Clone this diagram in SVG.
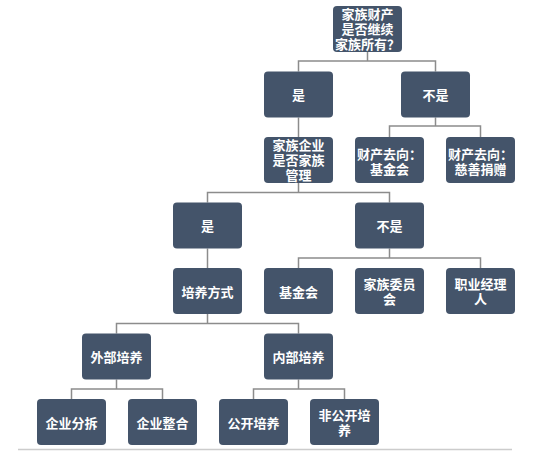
<svg xmlns="http://www.w3.org/2000/svg" width="550" height="461" viewBox="0 0 550 461">
<style>
.box{fill:#44546a;}
.t{fill:#ffffff;font-family:"Noto Sans CJK SC","Noto Sans CJK TC",sans-serif;font-size:13px;font-weight:bold;text-anchor:middle;dominant-baseline:central;}
.c{fill:none;stroke:#8c8c8c;stroke-width:1.5;}
</style>
<rect width="550" height="461" fill="#ffffff"/>
<g id="connectors" class="c">
<path d="M367.5 52V61M298.5 71.5V61H435.5V71.5"/>
<path d="M298.5 117.5V137"/>
<path d="M435.5 117.5V126M389.5 137V126H480.5V137"/>
<path d="M298.5 183V192.5M207.5 202.5V192.5H389.5V202.5"/>
<path d="M207.5 248.5V268"/>
<path d="M389.5 248.5V258M298.5 268V258H480.5V268"/>
<path d="M207.5 314V323.5M116.5 333.5V323.5H298.5V333.5"/>
<path d="M116.5 379.5V389M71.5 399V389H162.5V399"/>
<path d="M298.5 379.5V389M253.5 399V389H344.5V399"/>
</g>
<g id="n0"><rect class="box" x="333" y="6" width="69" height="46" rx="4"/><text class="t" y="13"><tspan x="367.5">家族财产</tspan><tspan x="367.5" dy="15">是否继续</tspan><tspan x="367.5" dy="15">家族所有？</tspan></text></g>
<g id="n1"><rect class="box" x="264" y="71.5" width="69" height="46" rx="4"/><text class="t" x="298.5" y="94.5">是</text></g>
<g id="n2"><rect class="box" x="401" y="71.5" width="69" height="46" rx="4"/><text class="t" x="435.5" y="94.5">不是</text></g>
<g id="n3"><rect class="box" x="264" y="137" width="69" height="46" rx="4"/><text class="t" y="144"><tspan x="298.5">家族企业</tspan><tspan x="298.5" dy="15">是否家族</tspan><tspan x="298.5" dy="15">管理</tspan></text></g>
<g id="n4"><rect class="box" x="355" y="137" width="69" height="46" rx="4"/><text class="t" y="152.5"><tspan x="389.5">财产去向：</tspan><tspan x="389.5" dy="15">基金会</tspan></text></g>
<g id="n5"><rect class="box" x="446" y="137" width="69" height="46" rx="4"/><text class="t" y="152.5"><tspan x="480.5">财产去向：</tspan><tspan x="480.5" dy="15">慈善捐赠</tspan></text></g>
<g id="n6"><rect class="box" x="173" y="202.5" width="69" height="46" rx="4"/><text class="t" x="207.5" y="225.5">是</text></g>
<g id="n7"><rect class="box" x="355" y="202.5" width="69" height="46" rx="4"/><text class="t" x="389.5" y="225.5">不是</text></g>
<g id="n8"><rect class="box" x="173" y="268" width="69" height="46" rx="4"/><text class="t" x="207.5" y="291">培养方式</text></g>
<g id="n9"><rect class="box" x="264" y="268" width="69" height="46" rx="4"/><text class="t" x="298.5" y="291">基金会</text></g>
<g id="n10"><rect class="box" x="355" y="268" width="69" height="46" rx="4"/><text class="t" y="283"><tspan x="389.5">家族委员</tspan><tspan x="389.5" dy="15">会</tspan></text></g>
<g id="n11"><rect class="box" x="446" y="268" width="69" height="46" rx="4"/><text class="t" y="283"><tspan x="480.5">职业经理</tspan><tspan x="480.5" dy="15">人</tspan></text></g>
<g id="n12"><rect class="box" x="82" y="333.5" width="69" height="46" rx="4"/><text class="t" x="116.5" y="356.5">外部培养</text></g>
<g id="n13"><rect class="box" x="264" y="333.5" width="69" height="46" rx="4"/><text class="t" x="298.5" y="356.5">内部培养</text></g>
<g id="n14"><rect class="box" x="37" y="399" width="69" height="46" rx="4"/><text class="t" x="71.5" y="422">企业分拆</text></g>
<g id="n15"><rect class="box" x="128" y="399" width="69" height="46" rx="4"/><text class="t" x="162.5" y="422">企业整合</text></g>
<g id="n16"><rect class="box" x="219" y="399" width="69" height="46" rx="4"/><text class="t" x="253.5" y="422">公开培养</text></g>
<g id="n17"><rect class="box" x="310" y="399" width="69" height="46" rx="4"/><text class="t" y="414"><tspan x="344.5">非公开培</tspan><tspan x="344.5" dy="15">养</tspan></text></g>
<path d="M18 449.5H512" stroke="#cccccc" stroke-width="1.5" fill="none"/>
</svg>
